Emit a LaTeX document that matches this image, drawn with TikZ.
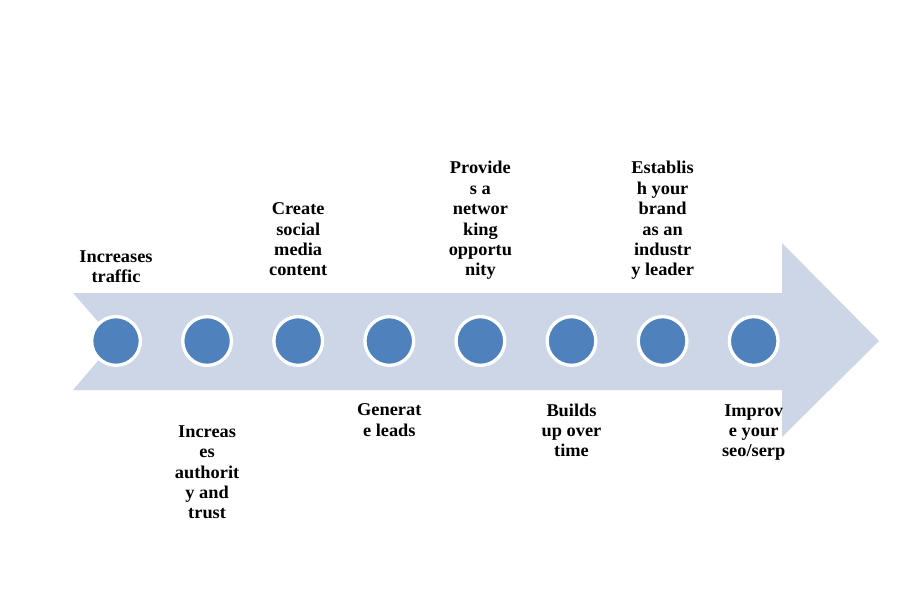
\documentclass[tikz,border=0pt]{standalone}
\usepackage{fontspec}
\setmainfont[FakeStretch=1.02]{Liberation Serif}
\definecolor{arrowfill}{HTML}{CDD6E6}
\definecolor{dotfill}{HTML}{4F81BD}
\begin{document}
\begin{tikzpicture}[x=1pt,y=-1pt,
  dot/.style={circle,fill=dotfill,draw=white,line width=3.3pt,minimum size=48.7pt,inner sep=0pt},
  lbl/.style={align=center,inner sep=0pt,text depth=0pt,anchor=south,
    font=\bfseries\fontsize{18}{20.4}\selectfont}]
\useasboundingbox (0,0) rectangle (920,589);
\fill[white] (0,0) rectangle (920,589);
\fill[arrowfill] (73,293) -- (782,293) -- (782,243) -- (879,341) -- (782,437)
  -- (782,390) -- (73,390) -- (115,341) -- cycle;
\foreach \i/\x in {1/116,2/207.1,3/298.2,4/389.3,5/480.4,6/571.5,7/662.6,8/753.7}
  \node[dot] (c\i) at (\x,341) {};
\node[lbl] (t1) at (116,283) {Increases\\traffic};
\node[lbl] (t3) at (298.2,276) {Create\\social\\media\\content};
\node[lbl] (t5) at (480.4,276) {Provide\\s a\\networ\\king\\opportu\\nity};
\node[lbl] (t7) at (662.6,276) {Establis\\h your\\brand\\as an\\industr\\y leader};
\node[lbl] (t2) at (207.1,519) {Increas\\es\\authorit\\y and\\trust};
\node[lbl] (t4) at (389.3,436.5) {Generat\\e leads};
\node[lbl] (t6) at (571.5,457) {Builds\\up over\\time};
\node[lbl] (t8) at (753.7,457) {Improv\\e your\\seo/serp};
\end{tikzpicture}
\end{document}
